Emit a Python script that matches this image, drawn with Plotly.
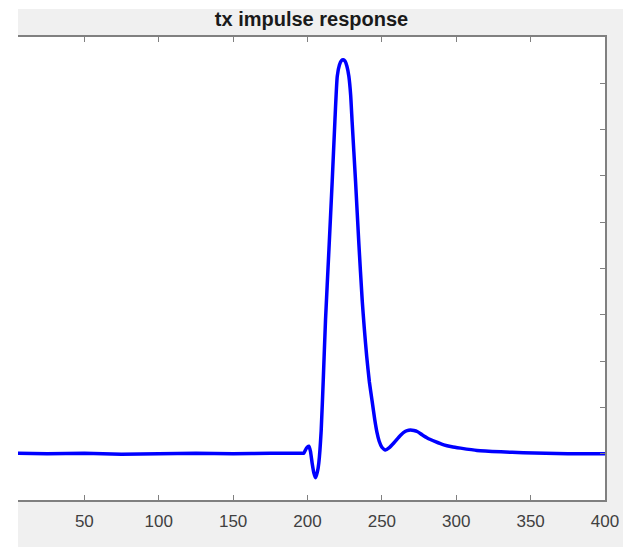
import plotly.graph_objects as go

# ---- data ----
sample = [1, 25, 50, 75, 100, 125, 150, 175, 190, 196,
          197.5, 199.3, 200.9, 202.0, 203.1, 204.3, 205.4, 206.6, 207.6, 209.2,
          210.6, 212.1, 214.4, 216.6, 218.4, 220.0, 221.5, 222.8, 224.0, 225.2,
          226.5, 227.8, 229.0, 230.0, 232.3, 234.5, 236.8, 238.2, 239.8, 241.6, 243.5,
          245.2, 246.7, 248.2, 250.0, 252.4, 255.0, 258.0, 261.5, 264.7, 267.0,
          269.2, 271.5, 273.7, 277.0, 280.5, 286.0, 291.6, 297.0, 302.9, 314.0,
          330.0, 345.0, 360.0, 375.0, 390.0, 400.0]
response = [0.001, 0.000, 0.001, -0.001, 0.000, 0.001, 0.000, 0.001, 0.001, 0.001,
            0.001, 0.012, 0.016, 0.005, -0.020, -0.042, -0.052, -0.040, -0.020, 0.050,
            0.160, 0.288, 0.440, 0.588, 0.717, 0.815, 0.840, 0.849, 0.851, 0.848,
            0.837, 0.815, 0.775, 0.717, 0.588, 0.455, 0.330, 0.270, 0.210, 0.155, 0.112,
            0.074, 0.046, 0.027, 0.014, 0.008, 0.013, 0.023, 0.036, 0.046, 0.050,
            0.051, 0.050, 0.048, 0.041, 0.034, 0.026, 0.019, 0.015, 0.012, 0.007,
            0.004, 0.002, 0.001, 0.000, 0.000, 0.000]
x_ticks = [50, 100, 150, 200, 250, 300, 350, 400]
y_ticks = [-0.1, 0, 0.1, 0.2, 0.3, 0.4, 0.5, 0.6, 0.7, 0.8, 0.9]
title_text = "tx impulse response"

W, H = 623, 547
L, R, T, B = 18, 18, 37, 47
plot_w = W - L - R
plot_h = H - T - B
px_per_unit = 1.4875
x_min = 400 - plot_w / px_per_unit

AX = "#808080"
FONT = "Liberation Sans, Arial, Helvetica, sans-serif"

fig = go.Figure()
fig.add_trace(go.Scatter(
    x=sample, y=response, mode="lines",
    line=dict(color="#0000ff", width=3.5, shape="spline", smoothing=0.5),
    hoverinfo="skip", showlegend=False,
))

fig.update_layout(
    width=W, height=H,
    margin=dict(l=L, r=R, t=T, b=B, pad=0, autoexpand=False),
    paper_bgcolor="#f0f0f0",
    plot_bgcolor="#ffffff",
    title=dict(text="<b>" + title_text + "</b>", x=0.5, xref="paper",
               y=1 - 19 / H, yref="container", yanchor="middle", xanchor="center",
               font=dict(family=FONT, size=20, color="#1a1a1a")),
    xaxis=dict(range=[x_min, 400], tickvals=x_ticks, ticks="inside", ticklen=5,
               tickwidth=1.2, tickcolor=AX, showline=True, linecolor=AX, linewidth=1.5,
               mirror="ticks", showgrid=False, zeroline=False, ticklabelstandoff=5,
               automargin=False,
               tickfont=dict(family=FONT, size=17, color="#404040")),
    yaxis=dict(range=[-0.1, 0.9], tickvals=y_ticks, ticks="inside", ticklen=5,
               tickwidth=1.2, tickcolor=AX, showline=True, linecolor=AX, linewidth=1.5,
               side="right", mirror=False, showticklabels=False, showgrid=False,
               zeroline=False, automargin=False),
    shapes=[
        # white strip on the left of the grey frame
        dict(type="rect", xref="paper", yref="paper", x0=-0.2, x1=0, y0=-0.3, y1=1.3,
             fillcolor="#ffffff", line=dict(width=0), layer="above"),
        # white strip above the grey frame
        dict(type="rect", xref="paper", yref="paper", x0=-0.2, x1=1.2,
             y0=1 + (T - 9) / plot_h, y1=1.3,
             fillcolor="#ffffff", line=dict(width=0), layer="above"),
    ],
)

fig.write_html("out.html",
               config={"displayModeBar": False},
               post_script="document.body.style.margin='0';document.body.style.overflow='hidden';")
